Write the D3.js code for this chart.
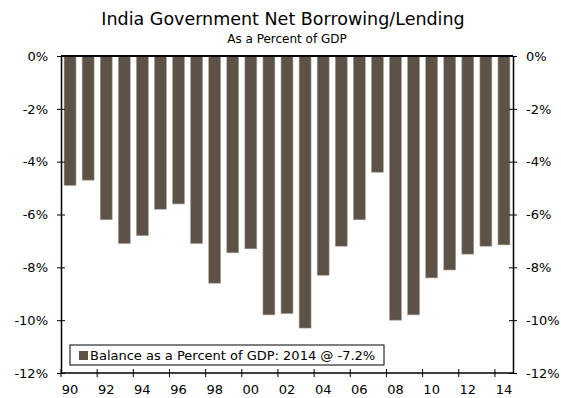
<!DOCTYPE html>
<html>
<head>
<meta charset="utf-8">
<script src="https://cdn.jsdelivr.net/npm/d3@7"></script>
<style>
  body { margin: 0; background: #fff; }
  text { font-family: "DejaVu Sans", Verdana, sans-serif; fill: #000; }
</style>
</head>
<body>
<div id="chart-area"></div>
<script>
const years = ['90', '91', '92', '93', '94', '95', '96', '97', '98', '99', '00', '01', '02',
    '03', '04', '05', '06', '07', '08', '09', '10', '11', '12', '13', '14'];
const balance = [-4.9, -4.7, -6.2, -7.1, -6.8, -5.8, -5.6, -7.1, -8.6, -7.45, -7.3, -9.8, -9.75,
    -10.3, -8.3, -7.2, -6.2, -4.4, -10.0, -9.8, -8.4, -8.1, -7.5, -7.2, -7.15];
const yTicks = [0, -2, -4, -6, -8, -10, -12];
const xLabels = ['90', '92', '94', '96', '98', '00', '02', '04', '06', '08', '10', '12', '14'];

const margin = {left: 61, right: 48, top: 56, bottom: 25};
const width = 561 - margin.left - margin.right;
const height = 398 - margin.top - margin.bottom;

const svg = d3.select('#chart-area')
    .append('svg')
    .attr('width', 561)
    .attr('height', 398);

svg.append('text')
    .attr('x', 283)
    .attr('y', 25)
    .attr('font-size', '17.5px')
    .attr('text-anchor', 'middle')
    .text('India Government Net Borrowing/Lending');

svg.append('text')
    .attr('x', 287)
    .attr('y', 43)
    .attr('font-size', '12px')
    .attr('text-anchor', 'middle')
    .text('As a Percent of GDP');

const g = svg.append('g')
    .attr('transform', `translate(${margin.left}, ${margin.top})`);

const x = d3.scaleBand()
    .domain(years)
    .range([0, width])
    .paddingInner(0.34)
    .paddingOuter(0.17);

const y = d3.scaleLinear()
    .domain([0, -12])
    .range([0, height]);

// bars
g.selectAll('rect.bar')
    .data(balance)
    .enter()
    .append('rect')
        .attr('class', 'bar')
        .attr('x', (d, i) => x(years[i]))
        .attr('y', 0)
        .attr('width', x.bandwidth())
        .attr('height', d => y(d))
        .attr('fill', '#5c5245')
        .attr('stroke', '#a8a196')
        .attr('stroke-width', 0.6);

// y axes
const fmt = d => `${d}%`;
const leftAxis = g.append('g')
    .call(d3.axisLeft(y).tickValues(yTicks).tickFormat(fmt).tickSizeInner(4).tickSizeOuter(0).tickPadding(9));
const rightAxis = g.append('g')
    .attr('transform', `translate(${width}, 0)`)
    .call(d3.axisRight(y).tickValues(yTicks).tickFormat(fmt).tickSizeInner(4).tickSizeOuter(0).tickPadding(9));

[leftAxis, rightAxis].forEach(ax => {
    ax.select('.domain').attr('stroke', '#000').attr('stroke-width', 1.5);
    ax.selectAll('.tick line').attr('stroke', '#000')
        .attr('x1', -4).attr('x2', 4);
    ax.selectAll('.tick text').attr('font-size', '13px').attr('font-family', '"DejaVu Sans", Verdana, sans-serif');
});

// x axis: ticks at every second category boundary, labels at bar centres
const bottom = g.append('g').attr('transform', `translate(0, ${height})`);
bottom.append('line')
    .attr('x1', 0).attr('x2', width)
    .attr('stroke', '#000').attr('stroke-width', 1.5);
bottom.selectAll('line.tick')
    .data(xLabels)
    .enter()
    .append('line')
        .attr('class', 'tick')
        .attr('x1', d => x(d) - x.step() * x.paddingInner() / 2)
        .attr('x2', d => x(d) - x.step() * x.paddingInner() / 2)
        .attr('y1', -4).attr('y2', 4)
        .attr('stroke', '#000');
bottom.selectAll('text')
    .data(xLabels)
    .enter()
    .append('text')
        .attr('x', d => x(d) + x.bandwidth() / 2)
        .attr('y', 21)
        .attr('font-size', '13px')
        .attr('text-anchor', 'middle')
        .text(d => d);

// zero line on top
g.append('line')
    .attr('x1', 0).attr('x2', width)
    .attr('y1', y(0)).attr('y2', y(0))
    .attr('stroke', '#000').attr('stroke-width', 2);

// legend
const legend = g.append('g').attr('transform', `translate(${70 - margin.left}, ${345 - margin.top})`);
legend.append('rect')
    .attr('width', 314).attr('height', 20)
    .attr('fill', '#fff').attr('stroke', '#000');
legend.append('rect')
    .attr('x', 9).attr('y', 6)
    .attr('width', 9).attr('height', 9)
    .attr('fill', '#5c5245');
legend.append('text')
    .attr('x', 20).attr('y', 15)
    .attr('font-size', '13px')
    .text('Balance as a Percent of GDP: 2014 @ -7.2%');
</script>
</body>
</html>
